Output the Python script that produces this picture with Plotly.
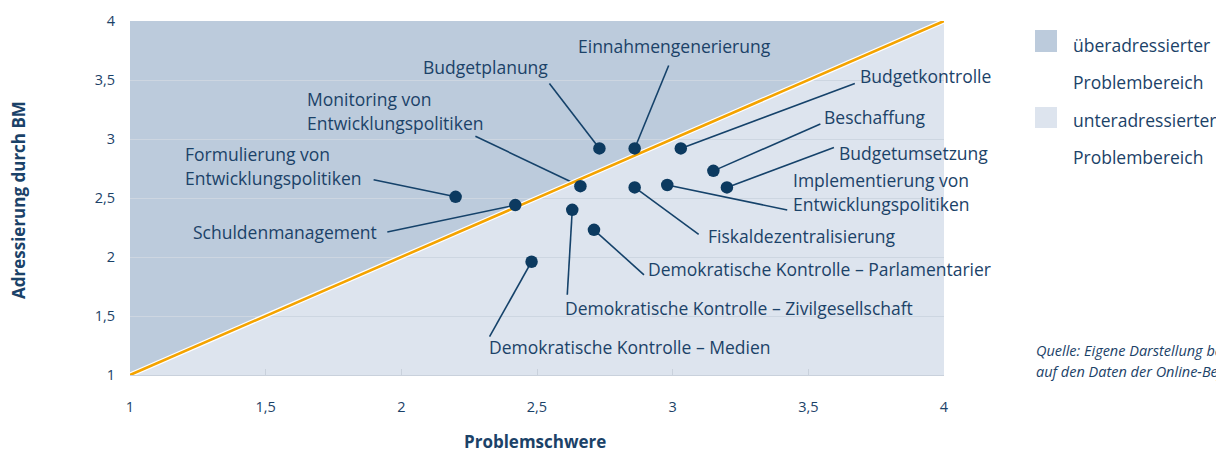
import plotly.graph_objects as go

# ---------------- data ----------------
categories = [
    "Budgetplanung", "Einnahmengenerierung", "Budgetkontrolle", "Beschaffung",
    "Budgetumsetzung", "Implementierung von<br>Entwicklungspolitiken",
    "Fiskaldezentralisierung", "Monitoring von<br>Entwicklungspolitiken",
    "Formulierung von<br>Entwicklungspolitiken", "Schuldenmanagement",
    "Demokratische Kontrolle – Zivilgesellschaft",
    "Demokratische Kontrolle – Parlamentarier",
    "Demokratische Kontrolle – Medien",
]
problemschwere = [2.73, 2.86, 3.03, 3.15, 3.20, 2.98, 2.86, 2.66, 2.20, 2.42, 2.63, 2.71, 2.48]
adressierung   = [2.92, 2.92, 2.92, 2.73, 2.59, 2.61, 2.59, 2.60, 2.51, 2.44, 2.40, 2.23, 1.96]
tick_vals = [1, 1.5, 2, 2.5, 3, 3.5, 4]
axis_range = [1, 4]

# ---------------- layout / styling ----------------
OFF = 8                      # page body margin
W, H = 1224 - OFF, 454 - OFF
# plot area in page pixels: x 130..944, y 21..375.5
M_L = 130 - OFF
M_T = 21 - OFF
M_R = W - (944 - OFF)
M_B = H - (375.5 - OFF)
PW, PH = W - M_L - M_R, H - M_T - M_B
px_x = PW / (axis_range[1] - axis_range[0])
px_y = PH / (axis_range[1] - axis_range[0])

FONT = "Open Sans"
FS = 17.5
TXT = "#1b4268"
DOT = "#0c3a60"
LINE = "#15426a"
DARK = "#bccbdc"
LIGHT = "#dde4ee"
ORANGE = "#f4a300"

# label layout: (line end dx, dy), (text dx, dy), xanchor  -- screen pixels relative to dot
label_layout = [
    ((-50, -65), (-114, -81), "center"),
    ((34, -83), (40, -102), "center"),
    ((174, -65), (178, -72), "left"),
    ((107, -47), (110, -54), "left"),
    ((107, -40), (111, -34), "left"),
    ((120, 25), (125, 7), "left"),
    ((64, 47), (72, 49), "left"),
    ((-105, -50), (-274, -75), "left"),
    ((-82, -17), (-272, -31), "left"),
    ((-128, 27), (-323, 27), "left"),
    ((-5, 85), (-8, 98), "left"),
    ((50, 45), (53, 39), "left"),
    ((-42, 75), (-44, 85), "left"),
]
LINE_GAP = 23.5

fig = go.Figure()

# connector lines
for xv, yv, (lend, _, _) in zip(problemschwere, adressierung, label_layout):
    fig.add_trace(go.Scatter(
        x=[xv, xv + lend[0] / px_x], y=[yv, yv - lend[1] / px_y],
        mode="lines", line=dict(color=LINE, width=1.6),
        hoverinfo="skip", showlegend=False, cliponaxis=False))

# diagonal
fig.add_trace(go.Scatter(x=axis_range, y=axis_range, mode="lines",
                         line=dict(color="white", width=5), hoverinfo="skip", showlegend=False))
fig.add_trace(go.Scatter(x=axis_range, y=axis_range, mode="lines",
                         line=dict(color=ORANGE, width=2.6), hoverinfo="skip", showlegend=False))

# dots
fig.add_trace(go.Scatter(x=problemschwere, y=adressierung, mode="markers",
                         marker=dict(color=DOT, size=12.5, line=dict(width=0)),
                         text=[c.replace("<br>", " ") for c in categories],
                         hoverinfo="text", showlegend=False))

annotations = []
for xv, yv, cat, (_, tpos, anchor) in zip(problemschwere, adressierung, categories, label_layout):
    lines = cat.split("<br>")
    n = len(lines)
    for i, ln in enumerate(lines):
        off = (i - (n - 1) / 2) * LINE_GAP
        annotations.append(dict(
            x=xv, y=yv, xref="x", yref="y", text=ln, showarrow=False,
            xanchor=anchor, yanchor="middle", xshift=tpos[0], yshift=-(tpos[1] + off),
            borderpad=0, font=dict(family=FONT, size=FS, color=TXT)))


def paper_text(text, px, py, size=FS, anchor="left", italic=False, bold=False, angle=0):
    """px, py: page pixel position of the text's anchor."""
    t = text
    if italic:
        t = "<i>" + t + "</i>"
    if bold:
        t = "<b>" + t + "</b>"
    return dict(x=0, y=1, xref="paper", yref="paper", text=t, showarrow=False,
                xanchor=anchor, yanchor="middle",
                xshift=px - OFF - M_L, yshift=-(py - OFF - M_T),
                borderpad=0, textangle=angle,
                font=dict(family=FONT, size=size, color=TXT))


def legend_box(py0, py1, color):
    return dict(type="rect", xref="paper", yref="paper", xsizemode="pixel", ysizemode="pixel",
                xanchor=0, yanchor=1, x0=1035 - OFF - M_L, x1=1057 - OFF - M_L,
                y0=-(py0 - OFF - M_T), y1=-(py1 - OFF - M_T),
                fillcolor=color, line=dict(width=0))


annotations += [
    paper_text("überadressierter", 1072, 45),
    paper_text("Problembereich", 1072, 82),
    paper_text("unteradressierter", 1072, 120),
    paper_text("Problembereich", 1072, 157),
    paper_text("Quelle: Eigene Darstellung basierend", 1035, 350, size=14.5, italic=True),
    paper_text("auf den Daten der Online-Befragung", 1035, 371, size=14.5, italic=True),
    paper_text("Problemschwere", 535, 441, size=17, anchor="center", bold=True),
    paper_text("Adressierung durch BM", 18, 200, size=17, anchor="center", bold=True, angle=-90),
]

shapes = [
    dict(type="path", xref="x", yref="y", layer="below", line=dict(width=0), fillcolor=DARK,
         path=f"M {axis_range[0]} {axis_range[0]} L {axis_range[0]} {axis_range[1]} L {axis_range[1]} {axis_range[1]} Z"),
    legend_box(30, 52, DARK),
    legend_box(107, 128, LIGHT),
]

fig.update_layout(
    width=W, height=H, margin=dict(l=M_L, r=M_R, t=M_T, b=M_B, pad=0, autoexpand=False),
    paper_bgcolor="white", plot_bgcolor=LIGHT, separators=",.",
    font=dict(family=FONT, color=TXT),
    annotations=annotations, shapes=shapes, showlegend=False,
    xaxis=dict(range=axis_range, tickvals=tick_vals, showgrid=False, zeroline=False,
               automargin=False,
               showline=True, linecolor="#c9d1dc", linewidth=1,
               ticks="inside", ticklen=6, tickcolor="#c9d1dc",
               tickfont=dict(family=FONT, size=14.5, color=TXT), ticklabelstandoff=19),
    yaxis=dict(range=axis_range, tickvals=tick_vals, showgrid=True, gridcolor="#cdd6e1",
               gridwidth=1, zeroline=False, showline=False, ticks="", automargin=False,
               tickfont=dict(family=FONT, size=14.5, color=TXT), ticklabelstandoff=14),
)

fig.write_html("out.html")
